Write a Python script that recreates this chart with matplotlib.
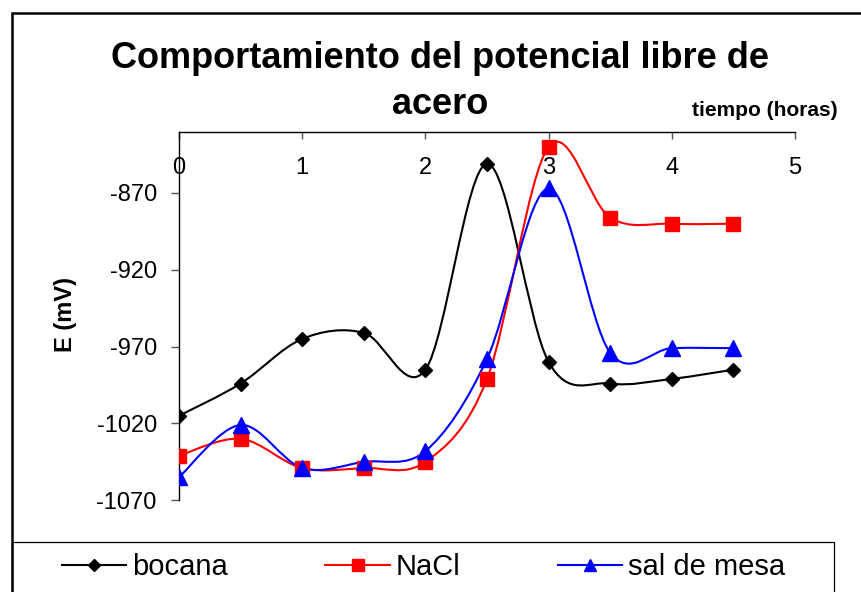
import matplotlib
matplotlib.use("Agg")
import matplotlib.pyplot as plt
import numpy as np
from matplotlib.path import Path
from matplotlib.patches import PathPatch, Rectangle
from matplotlib.lines import Line2D

plt.rcParams['font.family'] = ['Liberation Sans', 'DejaVu Sans']
plt.rcParams['axes.unicode_minus'] = False

# tiempo (horas) y potencial (mV)
tiempo = [0, 0.5, 1, 1.5, 2, 2.5, 3, 3.5, 4, 4.5]
bocana = [-1015, -994, -965, -961, -985, -851, -980, -994, -991, -985]
nacl = [-1041, -1030, -1049, -1049, -1045, -991, -840, -886, -890, -890]
sal_de_mesa = [-1055, -1021, -1049, -1045, -1038, -978, -867, -974, -971, -971]

# nombre, datos, color, marcador, tamano en grafico, tamano en leyenda
series = [
    ("bocana", bocana, "black", "D", 7.5, 6),
    ("NaCl", nacl, "red", "s", 10.5, 9),
    ("sal de mesa", sal_de_mesa, "blue", "^", 11, 9),
]


def curva_suave(x, y):
    # curva tipo Catmull-Rom (suavizado de Excel) como Bezier cubica
    x = np.asarray(x, float)
    y = np.asarray(y, float)
    px = np.concatenate([[x[0]], x, [x[-1]]])
    py = np.concatenate([[y[0]], y, [y[-1]]])
    verts = [(x[0], y[0])]
    codes = [Path.MOVETO]
    for i in range(1, len(px) - 2):
        c1 = (px[i] + (px[i + 1] - px[i - 1]) / 6, py[i] + (py[i + 1] - py[i - 1]) / 6)
        c2 = (px[i + 1] - (px[i + 2] - px[i]) / 6, py[i + 1] - (py[i + 2] - py[i]) / 6)
        verts += [c1, c2, (px[i + 1], py[i + 1])]
        codes += [Path.CURVE4] * 3
    return Path(verts, codes)


fig = plt.figure(figsize=(8.62, 5.92), dpi=100)
ax = fig.add_axes([179 / 862, 1 - 500.3 / 592, (795 - 179) / 862, (500.3 - 131.5) / 592])

for nombre, vals, color, mk, ms, _ in series:
    ax.add_patch(PathPatch(curva_suave(tiempo, vals), fill=False, edgecolor=color, lw=1.5, zorder=2))
    ax.plot(tiempo, vals, ls='none', marker=mk, ms=ms, color=color, zorder=3)

ax.set_xlim(0, 5)
ax.set_ylim(-1070, -830)
ax.set_xticks([0, 1, 2, 3, 4, 5])
ax.set_yticks([-1070, -1020, -970, -920, -870])

# eje x en la parte superior, etiquetas debajo de la linea
ax.spines['bottom'].set_position(('axes', 1.0))
ax.spines['top'].set_visible(False)
ax.spines['right'].set_visible(False)
for s in ['bottom', 'left']:
    ax.spines[s].set_linewidth(1.0)
ax.tick_params(axis='x', direction='out', length=5, width=1, colors='#555555',
               labelcolor='black', labelsize=17, pad=13)
ax.tick_params(axis='y', direction='out', length=6, width=1, colors='#555555',
               labelcolor='black', labelsize=17, pad=10)
ax.patch.set_alpha(0)

fig.text(77 / 862, 1 - 314 / 592, "E (mV)", rotation=90, ha='right', va='center',
         fontsize=17, fontweight='bold')

fig.text(440 / 862, 1 - 68 / 592, "Comportamiento del potencial libre de",
         ha='center', va='baseline', fontsize=26, fontweight='bold')
fig.text(440 / 862, 1 - 114 / 592, "acero",
         ha='center', va='baseline', fontsize=26, fontweight='bold')
fig.text(765 / 862, 1 - 116 / 592, "tiempo (horas)", ha='center', va='baseline',
         fontsize=15, fontweight='bold')

# marco exterior y caja de leyenda
fig.patches.append(Rectangle((12 / 862, -0.1), 1.2, 1 - 13 / 592 + 0.1, transform=fig.transFigure,
                             fill=False, edgecolor='black', lw=1.8))
fig.patches.append(Rectangle((12 / 862, -0.1), (834 - 12) / 862, 1 - 542 / 592 + 0.1,
                             transform=fig.transFigure, fill=False, edgecolor='black', lw=0.9))

handles = [Line2D([], [], color=c, lw=1.5, marker=mk, ms=lms) for _, _, c, mk, _, lms in series]
fig.legend(handles, [s[0] for s in series], loc='center left', ncol=3,
           bbox_to_anchor=(62 / 862, 1 - 567 / 592), frameon=False, fontsize=21,
           handlelength=2.2, handletextpad=0.2, columnspacing=3.35,
           borderpad=0, borderaxespad=0)

fig.savefig("out.png", dpi=100)
